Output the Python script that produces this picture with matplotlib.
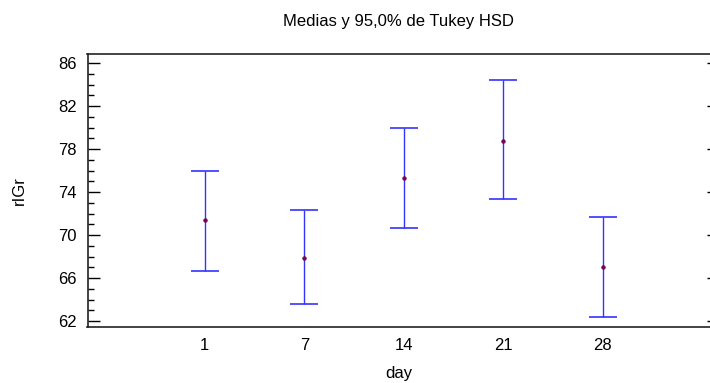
import matplotlib.pyplot as plt

plt.rcParams['font.family'] = ['Liberation Sans', 'DejaVu Sans']

days = ['1', '7', '14', '21', '28']
means = [71.4, 67.9, 75.3, 78.8, 67.0]
lower = [66.7, 63.55, 70.65, 73.4, 62.4]
upper = [76.0, 72.3, 79.95, 84.4, 71.7]
yticks = [62, 66, 70, 74, 78, 82, 86]

pos = list(range(len(days)))
err_lo = [m - l for m, l in zip(means, lower)]
err_hi = [u - m for m, u in zip(means, upper)]

fig = plt.figure(figsize=(7.1, 3.83), dpi=100)
ax = fig.add_axes([87.5 / 710, 1 - 327 / 383, (710 - 87.5) / 710, (327 - 54) / 383])

ax.errorbar(pos, means, yerr=[err_lo, err_hi], fmt='none', ecolor='#3333ff',
            elinewidth=1.0, capsize=10, capthick=1.2)
ax.plot(pos, means, 'o', ms=2.5, color='#8b0040', mec='#6a0050', mew=0.6)

ax.set_xlim(-1.18, 5.08)
ax.set_ylim(61.45, 86.85)
ax.set_xticks(pos)
ax.set_xticklabels(days)
ax.set_yticks(yticks)
ax.set_yticks(range(62, 87), minor=True)

ax.tick_params(axis='x', length=0, pad=8, labelsize=12)
ax.tick_params(axis='y', which='major', direction='in', length=8.6, width=1.0,
               labelsize=12, pad=8)
ax.tick_params(axis='y', which='minor', direction='in', length=4.3, width=1.0)

# short ticks on the right edge
rax = ax.twinx()
rax.set_ylim(ax.get_ylim())
rax.set_yticks(yticks)
rax.tick_params(axis='y', direction='in', length=2.5, width=1.0, labelright=False)
for s in rax.spines.values():
    s.set_visible(False)

ax.spines['right'].set_visible(False)
for s in ['left', 'top', 'bottom']:
    ax.spines[s].set_linewidth(1.2)
    ax.spines[s].set_color('#222222')

ax.set_title('Medias y 95,0% de Tukey HSD', fontsize=12, pad=20)
ax.set_xlabel('day', fontsize=12, labelpad=9)
ax.set_ylabel('rIGr', fontsize=12, labelpad=22)

fig.savefig('out.png', dpi=100)
